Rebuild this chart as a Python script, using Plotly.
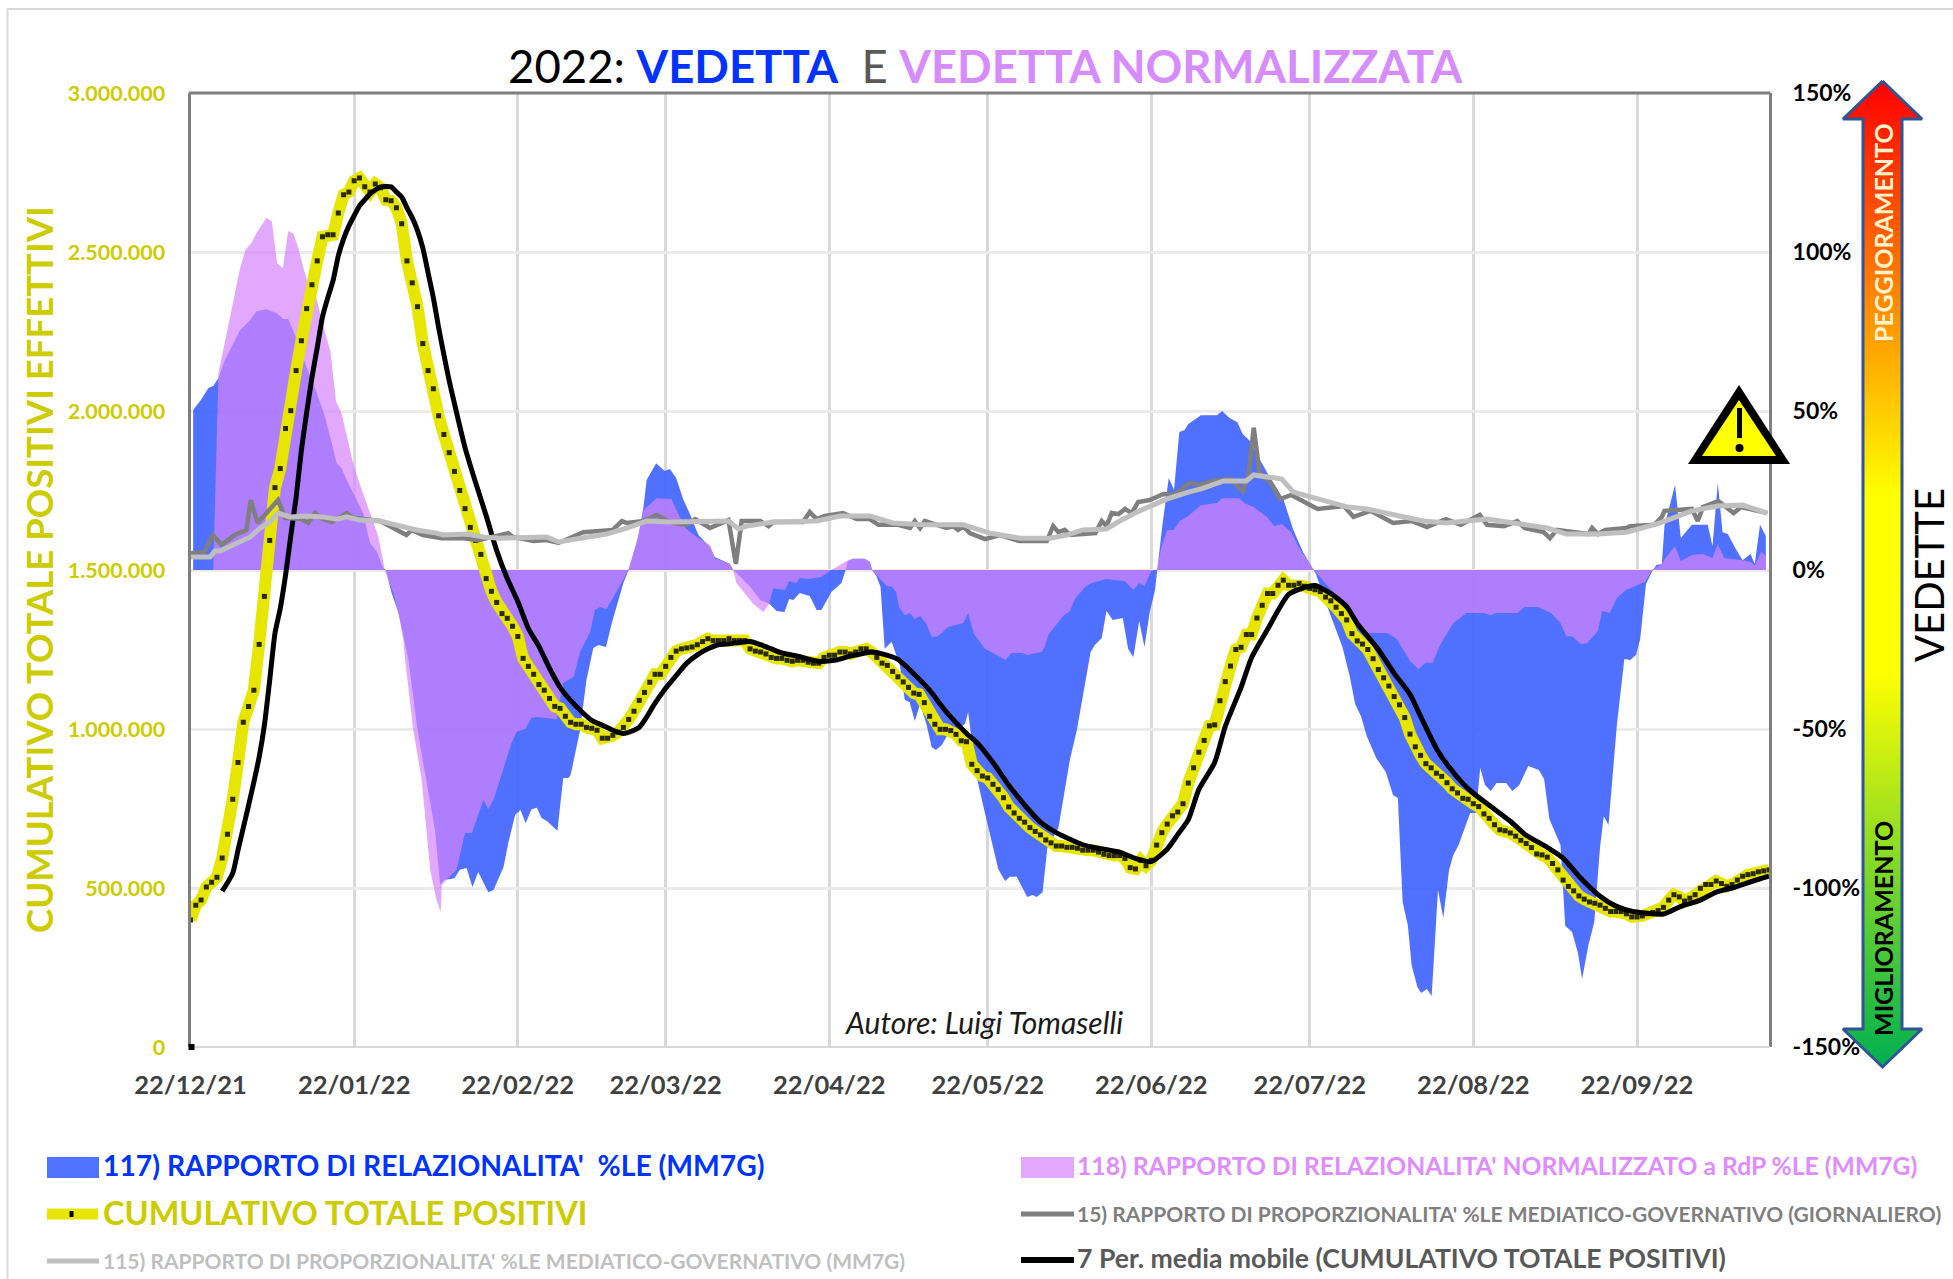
import pandas as pd
import plotly.graph_objects as go

W, H = 1953, 1279
START = pd.Timestamp("2021-12-22")
END = pd.Timestamp("2022-10-17")

tick_dates = ["2021-12-22", "2022-01-22", "2022-02-22", "2022-03-22", "2022-04-22",
              "2022-05-22", "2022-06-22", "2022-07-22", "2022-08-22", "2022-09-22"]
left_ticks = [0, 500000, 1000000, 1500000, 2000000, 2500000, 3000000]
right_ticks = [-150, -100, -50, 0, 50, 100, 150]
right_labels = ["-150%", "-100%", "-50%", "0%", "50%", "100%", "150%"]

# cumulative positives, thousands, one value per day from 22/12/21
positivi_k = [
    399,446,462,503,518,534,594,669,779,895,
    1021,1071,1122,1266,1417,1593,1759,1819,1945,2001,
    2127,2221,2322,2397,2472,2548,2554,2554,2623,2680,
    2689,2724,2733,2705,2689,2714,2702,2664,2661,2639,
    2589,2472,2403,2328,2212,2127,2070,1985,1926,1869,
    1810,1750,1693,1634,1593,1549,1473,1433,1398,1363,
    1348,1323,1291,1222,1197,1172,1140,1122,1096,1071,
    1065,1040,1021,1015,1015,1005,1002,996,971,971,
    980,990,1005,1030,1056,1090,1115,1147,1172,1172,
    1197,1225,1245,1252,1255,1258,1265,1275,1284,1278,
    1278,1278,1284,1278,1278,1278,1252,1245,1242,1236,
    1225,1222,1222,1216,1213,1216,1216,1210,1207,1207,
    1225,1232,1232,1242,1242,1236,1242,1252,1252,1242,
    1225,1207,1200,1181,1164,1148,1131,1113,1109,1083,
    1040,1015,999,999,995,983,963,960,889,869,
    852,846,826,810,784,755,736,719,707,690,
    678,667,651,642,632,632,628,628,625,619,
    619,619,613,606,602,602,602,593,564,560,
    587,570,587,635,674,701,727,739,765,830,
    878,927,964,1010,1013,1089,1149,1198,1250,1257,
    1297,1297,1349,1389,1426,1426,1452,1468,1452,1452,
    1458,1449,1442,1438,1432,1415,1403,1383,1363,1343,
    1300,1277,1267,1250,1221,1187,1161,1135,1102,1076,
    1036,984,944,917,891,878,861,851,831,812,
    799,782,779,765,756,733,719,699,683,680,
    673,663,650,640,627,607,604,597,577,557,
    525,505,491,475,465,456,452,446,436,426,
    426,426,419,409,409,412,419,423,429,439,
    462,479,472,459,468,479,499,511,511,522,
    514,505,511,525,537,542,545,551,554,557,
]

media_days = [6,8,9,11,12,13,14,15,16,17,18,19,20,21,22,23,24,25,26,27,28,29,30,31,32,33,34,35,36,38,39,40,41,42,43,44,45,46,47,48,49,50,52,54,56,58,60,62,64,66,68,70,72,74,76,78,80,82,84,85,86,88,90,92,94,96,98,100,102,106,108,110,112,115,119,122,125,129,131,134,137,140,143,147,149,152,155,158,161,164,169,172,176,179,182,185,187,189,191,194,196,199,201,204,208,211,213,216,219,221,225,228,231,233,236,238,241,243,246,250,253,257,260,263,267,270,273,279,282,286,289,292,296,299]
media_k = [490,547,619,760,833,911,1012,1153,1301,1379,1483,1608,1728,1876,1995,2105,2199,2296,2356,2410,2488,2541,2582,2614,2645,2664,2683,2695,2705,2705,2689,2673,2639,2608,2567,2513,2435,2356,2262,2177,2095,2023,1885,1775,1671,1561,1473,1401,1316,1260,1191,1131,1090,1056,1027,1012,996,986,996,1005,1027,1081,1128,1168,1207,1233,1252,1265,1268,1275,1265,1252,1239,1229,1213,1216,1229,1242,1236,1219,1174,1122,1057,986,957,895,823,761,707,674,636,625,613,593,583,622,668,715,810,895,1008,1131,1225,1313,1423,1445,1451,1426,1385,1332,1250,1175,1109,1040,939,889,829,798,760,710,666,628,594,537,474,443,427,418,440,462,487,500,522,537]

blue_days = [0.5,2,3.4,4.3,5.3,6.5,9.4,11.3,12.5,14.4,16.3,17.6,18.5,19.8,21.7,23.9,25.5,26.7,27.7,28.6,29.6,32.7,34,35.3,36.5,37,38.1,39.4,40.3,41.3,43,44.7,46.3,47.3,48.1,50,51,52.3,53.4,54.5,56.4,57.4,59.3,60.2,61.5,62.5,63.5,64.6,65.6,66.5,67.5,69.5,70.6,71.6,72,73.8,75,76.3,77.3,78.7,79.8,82,83,84.8,85.8,86.4,88.2,89.8,90.8,92,93.3,94.6,96.2,98.4,99.3,102.2,102.8,103.5,106,107.9,109.7,111,112.5,113.4,114.2,115.4,117.3,118.6,119.5,121.4,123.3,124.1,124.5,125.5,127.7,128.7,129.1,129.9,130.7,131.5,132.8,134.4,135.3,136.2,137.2,138.2,139.4,140.4,141.2,142.3,143.3,146.7,147.3,147.6,148.6,149.9,151.1,152.4,153,154.3,155.2,156.5,157.4,158.5,159.5,160.3,161.4,162.3,164.4,166.6,167.9,169.5,170.5,171.3,172.6,173.5,174.7,176.6,177.6,178.6,179.7,180.7,181.7,182.7,183.1,184.1,185.3,186.3,187.3,188.3,189,191.4,194.4,195.4,196.8,198.3,199.3,200.7,202.5,204.2,207,208.9,210.7,212.5,213.2,215,216.7,218.2,219.6,220.6,221.7,222.8,224.6,226.4,227.8,228.7,229.6,230.6,231.3,232.4,233.1,234.2,235.1,236.3,237.3,238.4,239.2,240.2,242.4,243.5,244.3,245.2,246.3,247.4,249.2,250.4,251.7,253.4,255.4,256.4,257.4,259.5,260.4,261.7,262.8,263.6,264.8,265.9,267,267.7,268.6,270.2,271.6,272.7,273.8,274.6,275.7,277,277.7,278.7,279.2,280.2,281.2,282.3,284.4,286.5,287.4,288.3,289.3,290.2,291.2,292.6,294,295.5,296.3,297.3,298.4]
blue_pct = [50.3,53.5,57.2,57.9,60.4,66,75.5,78.6,81.4,82,80.8,78.9,78.9,73.9,65.1,55.7,48.1,39.9,33.6,32.1,28.3,17.9,8.5,5.7,0.6,0,-7.2,-13.5,-21,-28.3,-50.3,-66,-81.8,-99,-97.5,-96.9,-94.3,-93.7,-99.7,-95,-101.3,-100.6,-93.4,-85.8,-77,-75.5,-79.6,-75.2,-74.8,-78,-78.9,-82,-65.4,-65.4,-64.5,-50.3,-34.6,-24.5,-23.6,-24.2,-16.7,-4.1,0,10.4,19.8,28.3,33.6,31.1,31.8,28.9,22.3,17.6,11,7.2,4.1,1.9,0,-1,-5.3,-9.4,-10.7,-12.9,-13.2,-9.1,-9.4,-7.2,-8.2,-12.6,-12.6,-6.9,-4.1,0,2.8,3.5,3.5,2.5,0,-1.9,-5.3,-24.8,-22.6,-30.2,-40.9,-41.5,-47.5,-42.1,-48.4,-55.7,-56.6,-55,-52.2,-48.4,-44.7,-48.4,-62.6,-72.3,-81.1,-90.3,-94,-97.8,-96.5,-96.5,-99.4,-102.8,-102.2,-102.8,-101.3,-87.4,-81.1,-59.4,-50.3,-35.5,-25.8,-23.6,-21.4,-12.9,-15.7,-15.1,-24.8,-27.4,-16,-24.2,-13.2,-6.3,0,14.2,28.9,25.2,43.4,44,45.9,48.7,48.7,50,47.8,46.5,42.8,40.6,34.9,29.9,22.3,12.6,5.7,0.6,-1.3,-10.1,-17.3,-24.2,-33.6,-42.1,-45.9,-52.2,-59.1,-63.5,-70.8,-71.7,-104.4,-111.9,-124.2,-131.1,-133,-131.8,-134,-100.6,-109.4,-94.3,-89.6,-86.5,-76.4,-76.4,-62.3,-67.6,-69.5,-67,-67,-69.5,-67.6,-61.6,-62.9,-65.7,-78.3,-86.5,-111.9,-113.8,-120.4,-128.6,-117.9,-110.7,-87.1,-77.4,-80.2,-48.4,-28,-28.3,-26.7,-21.7,-4.4,0,1.6,1.9,13.8,20.4,26.7,10.1,14.2,14.2,14.2,7.5,27.4,11.9,11.3,6.9,3.1,5,1.9,14.2,10.7]

purple_days = [4.3,5.3,6.3,7.8,9.4,10.4,11.6,12.5,13.5,14.4,15.4,16.4,17.5,18.5,19.5,20.4,21.5,22.5,23.6,24.5,25.5,26.5,27.6,28.6,29.6,30.8,31.8,33.7,35.6,36.8,38.4,39.4,40.3,40.6,42.2,43.8,45.4,46.6,47.4,47.6,48.5,50.4,52,53.3,55.5,56.4,57.4,58.6,59.9,60.8,61.8,63.4,64.6,65.6,69.4,70.6,72.6,73.8,75.7,76.6,77.6,78.8,82,82.9,84.8,85.8,88.3,91.1,92.4,93.7,96.2,98.4,99.3,102.2,102.8,103.4,106.6,108.5,109.6,110.4,112.6,113.4,114.8,115.4,117,119.5,121.4,124.3,125.5,127.7,128.7,129.1,129.9,131.9,132.8,133.7,134.2,135.3,136.3,137.2,138.2,139.4,140.4,141.4,142.3,143.5,146.4,147.3,148.4,150.5,152.7,154.4,155.5,157.5,158.5,161.2,161.8,162.5,164.1,165.3,166.6,167.5,169.5,170.7,173.5,177,178.6,179.7,180.7,182,183,184,185,186.2,187.4,189,191.4,194.4,195.4,198.6,199.6,201.4,203.9,205.3,206.7,208.5,210,212.5,212.8,213.5,219.2,222.8,226.7,228.5,231,232.6,233.9,235.3,236.7,239.2,241.7,245,246.3,247.4,251.3,252.7,255.2,257.7,259.5,260.6,261.7,263.4,264.5,266.6,267.4,268.8,270.2,271.9,275.5,276.9,278.7,279.4,281.2,282.3,284.4,286.5,288.3,289.3,290.5,294,295.5,296.3,297.5,298.4]
purple_pct = [0,62,70,81.8,95,100.6,103,106,108.5,110.7,109.7,96.5,95,106.6,105.7,101.3,94.3,89,87,80.8,74.5,68.9,52.8,49.4,41.8,33.6,28.3,19.5,10.4,0,-7.2,-13.5,-22,-27.4,-50.3,-66,-94.3,-103.8,-107.5,-99,-97.5,-94.3,-82.7,-82.7,-72.3,-75.2,-72.3,-66,-59.7,-54.4,-50.9,-50,-46.5,-46.2,-46.9,-35.5,-33.6,-25.8,-19.5,-12.6,-11.6,-12.3,-3.1,0,10.4,18.9,22.6,22.3,17.6,13.2,10,7.9,3.8,1.9,0,-4.1,-10.7,-13.2,-10.7,-5.7,-6.3,-3.5,-4.1,-2.5,-2.8,-2.2,0,2.8,3.5,3.5,2.5,0,-1.6,-5,-5.3,-6.9,-11.6,-14.2,-13.5,-15.4,-14.5,-17,-21,-21,-19.8,-17.9,-16.7,-13.5,-20.1,-24.8,-26.7,-28.3,-26.1,-26.1,-26.7,-25.8,-24.2,-20.4,-17,-14.5,-12.9,-9.1,-5.3,-4.1,-2.8,-3.5,-6.3,-4.1,-5,-0.3,0,7.9,12.6,12.6,15.4,17,20.4,21.1,22.6,22.6,21.1,19.8,16.7,13.8,14.5,11.9,6.9,0.6,0,-1.3,-12.3,-19.8,-19.8,-21.7,-28.6,-31.1,-29.2,-29.2,-23.6,-16.7,-13.5,-13.5,-14.2,-13.5,-13.5,-11.6,-11.6,-13.5,-16.7,-20.8,-20.8,-23.3,-23,-19.2,-12.9,-13.5,-8.8,-6.3,-3.8,0,1.9,3.8,7.5,2.8,4.7,5,3.8,8.2,3.8,3.1,2.5,1.3,5.7,4.4]

mm7g_days = [0,3.7,4.6,5.6,11.3,13.2,15,16.6,18.8,22,25,27.7,29.6,32,35.9,39,42.8,46.6,47.9,52.3,55.5,58.6,67.5,69.7,73.8,78.8,82.6,86.4,90.8,101.9,103.8,105.3,110.4,118.6,123,128.7,133,138.8,146.4,151.4,157.1,162.8,166,169,173.5,176,179.8,184.9,189,191.4,195.7,200,201.4,206.7,208.9,213.5,219.2,222.8,229.2,233.5,237.8,245.6,250.6,257,260.6,266.6,272,278.4,284.4,289.3,294,298.7]
mm7g_pct = [4.1,4.1,6,6,10.4,13.2,15.1,17.9,16.7,17,16.7,16,16.7,15.7,15.4,14.2,12.6,11.6,11,11.3,10.4,10,10.4,8.8,10,11.3,13.2,15.4,15.1,15.4,12.9,13.8,15.1,15.4,17,17,14.8,14.2,14.2,11.6,10,10,11,12.6,12.9,15.4,18.6,22.3,24.5,25.5,28,28,29.9,28.6,24.5,22.3,19.8,19.2,16.7,15.4,14.8,16,14.8,13.2,11.3,11.3,11.9,14.8,18.6,20.1,20.4,17.9]

daily_days = [0,2.7,4.2,5.9,8.4,10.6,11.4,12.7,16.6,17.9,21,22.3,23.6,24.5,26.7,29.6,30.8,35.9,40.9,41.9,44,47.6,51.7,54.5,60.2,61.1,65,67.5,69.7,74.4,80,81.7,82.6,85.8,88.3,90.8,94,95.6,98.4,101.9,103.3,104.4,107.9,109.5,110.4,116,117.3,118.6,120.2,123.6,126.2,128.7,130.3,134,136.3,137.2,138.2,139.1,143.2,144.5,145.4,146.4,147.6,150.5,153.3,157,162.2,163.4,164.4,165.6,166.6,171.4,172.6,173.5,174.5,175.8,177,178.3,179.5,181.7,184.3,186.2,189.3,191,193.6,197,199.3,200.4,201.4,202.5,204.6,206.4,208.5,213.5,218.5,220.3,223.5,227.8,231.3,234.2,237.8,240.6,244.2,245.6,248.8,251.3,252.7,256.3,257.5,258.8,264.8,265.5,266.6,268,272,272.7,277.3,278.7,279.2,284.4,285.5,286.5,289.4,290.8,292.3,293.7,298.7]
daily_pct = [5.3,5.7,11,7.9,11,12.6,22,14.8,22,16.4,16,14.8,17.9,16.4,15.1,17.9,16.4,15.4,11,12.6,11,10,10,9.4,11.6,10.4,9.1,9.4,8.5,11.9,12.6,15.4,14.8,15.4,17.3,15.1,14.2,16,13.2,15.7,1.9,15.4,15.4,13.8,15.1,15.1,18.2,16,17,17.9,16,16,14.2,14.2,13.2,15.4,13.2,15.4,13.2,13.8,12.6,13.8,11.6,9.7,11,9.1,9.1,13.8,11.9,12.6,11,11.6,15.4,13.8,17.9,17.6,19.2,17.9,21.4,22,23.9,23.6,27.4,26.7,28,28.6,24.8,29.9,44.7,30.5,27.4,22.3,23.6,19.2,20.1,16.7,18.6,14.8,15.4,13.5,16,14.2,17.3,14.2,13.8,15.4,13.2,11.9,10,12.6,11.3,13.2,11.3,12.6,13.2,13.8,14.2,16.7,18.6,19.2,15.4,19.8,21.7,19.8,17.9,19.8,17.9]

BLUE_FILL = "rgba(61,98,255,0.90)"
PURPLE_FILL = "rgba(214,132,254,0.705)"
YELLOW = "#E6E600"
OLIVE = "#CCCC00"
GREY_D = "#7F7F7F"
GREY_L = "#BFBFBF"
FONT = "Lato"

def to_dates(days):
    return [START + pd.Timedelta(days=float(d)) for d in days]

def px(x):
    return x / W

def py(y):
    return 1 - y / H

DX = [px(190.5), px(1769)]
DY = [py(1047), py(93)]

fig = go.Figure()
fig.add_trace(go.Scatter(x=to_dates(blue_days), y=blue_pct, name="117", mode="lines", line=dict(width=0),
                         fill="tozeroy", fillcolor=BLUE_FILL, xaxis="x", yaxis="y", hoverinfo="skip"))
fig.add_trace(go.Scatter(x=to_dates(purple_days), y=purple_pct, name="118", mode="lines", line=dict(width=0),
                         fill="tozeroy", fillcolor=PURPLE_FILL, xaxis="x", yaxis="y", hoverinfo="skip"))
fig.add_trace(go.Scatter(x=to_dates(range(len(positivi_k))), y=[v * 1000 for v in positivi_k],
                         name="CUMULATIVO TOTALE POSITIVI", mode="lines+markers",
                         line=dict(color=YELLOW, width=12, shape="linear"),
                         marker=dict(symbol="square", size=5, color="#2A2A10"),
                         xaxis="x", yaxis="y2"))
fig.add_trace(go.Scatter(x=to_dates(media_days), y=[v * 1000 for v in media_k],
                         name="7 Per. media mobile", mode="lines",
                         line=dict(color="#000000", width=5, shape="spline", smoothing=0.6),
                         xaxis="x", yaxis="y2"))
fig.add_trace(go.Scatter(x=to_dates(daily_days), y=daily_pct, name="15", mode="lines",
                         line=dict(color=GREY_D, width=4.5), xaxis="x", yaxis="y3"))
fig.add_trace(go.Scatter(x=to_dates(mm7g_days), y=mm7g_pct, name="115", mode="lines",
                         line=dict(color=GREY_L, width=5), xaxis="x", yaxis="y3"))

# decorative arrow on a full-page pixel subplot
ax, bx, hl, hr = 1863, 1902, 1843, 1922
cx = 1882.5
tip_t, head_t, head_b, tip_b = 81, 119, 1029, 1067
fig.add_trace(go.Scatter(
    x=[cx, hr, bx, bx, hr, cx, hl, ax, ax, hl, cx],
    y=[tip_t, head_t, head_t, head_b, head_b, tip_b, head_b, head_b, head_t, head_t, tip_t],
    mode="lines", line=dict(color="#2F5597", width=3), fill="toself",
    fillgradient=dict(type="vertical",
                      colorscale=[[0, "#00B050"], [0.4, "#FFFF00"], [0.58, "#FFFF00"], [0.75, "#FF9900"], [1, "#FF0000"]]),
    xaxis="x2", yaxis="y4", hoverinfo="skip", name="arrow"))

shapes = []
def hline(x0, x1, y, color, w):
    shapes.append(dict(type="line", xref="paper", yref="paper", x0=px(x0), x1=px(x1), y0=py(y), y1=py(y),
                       line=dict(color=color, width=w), layer="above"))
def rect(x0, x1, y0, y1, color):
    shapes.append(dict(type="rect", xref="paper", yref="paper", x0=px(x0), x1=px(x1), y0=py(y0), y1=py(y1),
                       fillcolor=color, line=dict(width=0), layer="above"))

hline(7, W, 9, "#D9D9D9", 2)
shapes.append(dict(type="line", xref="paper", yref="paper", x0=px(7.5), x1=px(7.5), y0=py(9), y1=py(H),
                   line=dict(color="#D9D9D9", width=2), layer="above"))
hline(189, 1770.5, 93, GREY_D, 3)
hline(190, 1770, 1047, "#D9D9D9", 2)
rect(188.5, 194.5, 1044, 1050, "#000000")
def poly(points, color):
    path = "M " + " L ".join(f"{px(a)} {py(b)}" for a, b in points) + " Z"
    shapes.append(dict(type="path", xref="paper", yref="paper", path=path, fillcolor=color,
                       line=dict(width=0), layer="above"))
poly([(1739, 385), (1790, 464), (1688, 464)], "#000000")
poly([(1739, 400), (1776, 456), (1702, 456)], "#FFFF00")
rect(1737, 1742, 408, 438, "#000000")
shapes.append(dict(type="circle", xref="paper", yref="paper", x0=px(1735.5), x1=px(1743.5), y0=py(452), y1=py(444),
                   fillcolor="#000000", line=dict(width=0), layer="above"))
rect(47, 99, 1157, 1178, "#4F72FF")
rect(1021, 1074, 1157, 1178, "#E2A8FE")
hline(47, 98, 1214, YELLOW, 11)
rect(69.5, 73.5, 1211, 1217, "#000000")
hline(47, 99, 1261, GREY_L, 5)
hline(1021, 1074, 1214, GREY_D, 5)
hline(1021, 1074, 1260, "#000000", 6)

ann = []
def text(x, y, s, size, color, anchor="left", bold=True, rot=0, italic=False):
    t = s
    if italic:
        t = f"<i>{t}</i>"
    if bold:
        t = f"<b>{t}</b>"
    ann.append(dict(x=px(x), y=py(y), xref="paper", yref="paper", text=t, showarrow=False, xanchor=anchor,
                    yanchor="middle", textangle=rot, align="left",
                    font=dict(family=FONT, size=size, color=color)))

title = ("<span style='color:#000000'>2022: </span>"
         "<span style='color:#0033FF'><b>VEDETTA</b></span>"
         "<span style='color:#595959'>  E </span>"
         "<span style='color:#D68CFF'><b>VEDETTA NORMALIZZATA</b></span>")
ann.append(dict(x=px(985), y=py(65), xref="paper", yref="paper", text=title, showarrow=False, xanchor="center",
                yanchor="middle", font=dict(family=FONT, size=45.5, color="#000000")))
text(39, 570, "CUMULATIVO TOTALE POSITIVI EFFETTIVI", 36.5, OLIVE, anchor="center", rot=-90)
text(984, 1022, "Autore: Luigi Tomaselli", 30, "#1A1A1A", anchor="center", bold=False, italic=True)
text(1883, 233, "PEGGIORAMENTO", 25, "#FFF2CC", anchor="center", rot=-90)
text(1883, 929, "MIGLIORAMENTO", 25, "#000000", anchor="center", rot=-90)
text(1929, 575, "VEDETTE", 40, "#000000", anchor="center", bold=False, rot=-90)
text(101, 1165, "117) RAPPORTO DI RELAZIONALITA'  %LE (MM7G)", 28.3, "#0033FF")
text(101, 1212, "CUMULATIVO TOTALE POSITIVI", 32.5, OLIVE)
text(101, 1260, "115) RAPPORTO DI PROPORZIONALITA' %LE MEDIATICO-GOVERNATIVO (MM7G)", 21, GREY_L)
text(1075, 1165, "118) RAPPORTO DI RELAZIONALITA' NORMALIZZATO a RdP %LE (MM7G)", 24.7, "#DE8CFF")
text(1075, 1213, "15) RAPPORTO DI PROPORZIONALITA' %LE MEDIATICO-GOVERNATIVO (GIORNALIERO)", 21, GREY_D)
text(1075, 1258, "7 Per. media mobile (CUMULATIVO TOTALE POSITIVI)", 26.6, "#595959")

fig.update_layout(
    template="none",
    width=W, height=H, autosize=False,
    margin=dict(l=0, r=0, t=0, b=0, pad=0),
    paper_bgcolor="white", plot_bgcolor="rgba(0,0,0,0)",
    showlegend=False, separators=",.",
    font=dict(family=FONT),
    shapes=shapes, annotations=ann,
    xaxis=dict(domain=DX, anchor="y", type="date", range=[START, END], tickvals=tick_dates, tickformat="%d/%m/%y",
               showgrid=True, gridcolor="#D9D9D9", gridwidth=3, zeroline=False, showline=False, ticks="",
               ticklabelstandoff=20, automargin=False,
               tickfont=dict(family=FONT, size=25.5, color="#404040", weight="bold")),
    yaxis=dict(domain=DY, anchor="x", side="right", range=[-150, 150], tickvals=right_ticks, ticktext=right_labels,
               showgrid=True, gridcolor="#EBEBEB", gridwidth=2.5, zeroline=False, showline=True, linecolor=GREY_D,
               linewidth=3, ticks="", ticklabelstandoff=16, automargin=False,
               tickfont=dict(family=FONT, size=23, color="#000000", weight="bold")),
    yaxis2=dict(domain=DY, anchor="x", side="left", overlaying="y", range=[0, 3000000], tickvals=left_ticks,
                tickformat=",d", showgrid=False, zeroline=False, showline=True, linecolor=GREY_D, linewidth=3,
                ticks="", ticklabelstandoff=18, automargin=False,
                tickfont=dict(family=FONT, size=21.5, color=OLIVE, weight="bold")),
    yaxis3=dict(domain=DY, anchor="x", side="right", overlaying="y", range=[-150, 150], visible=False, automargin=False),
    xaxis2=dict(domain=[0, 1], anchor="y4", range=[0, W], visible=False, automargin=False),
    yaxis4=dict(domain=[0, 1], anchor="x2", range=[H, 0], visible=False, automargin=False),
)

fig.write_html("out.html", config={"displayModeBar": False},
               post_script="document.body.style.margin='0';document.body.style.overflow='hidden';")
